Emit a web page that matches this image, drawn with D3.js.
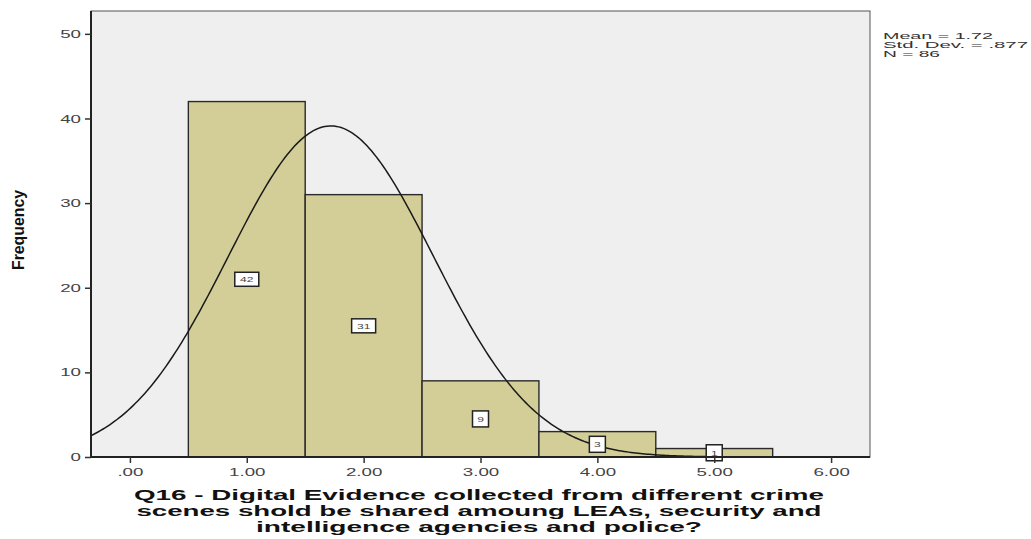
<!DOCTYPE html>
<html>
<head>
<meta charset="utf-8">
<script src="https://cdn.jsdelivr.net/npm/d3@7/dist/d3.min.js"></script>
<style>
  html, body { margin: 0; padding: 0; background: #fff; }
  svg { display: block; }
</style>
</head>
<body>
<svg id="chart" width="1031" height="539"></svg>
<script>
// Histogram data: bin centres and counts
const binCenters = [1, 2, 3, 4, 5];
const binCounts = [42, 31, 9, 3, 1];
const binWidth = 1;

// Summary statistics for the fitted normal curve
const statMean = 1.72;
const statSD = 0.877;
const statN = 86;
const statLines = ["Mean = 1.72", "Std. Dev. = .877", "N = 86"];

// Axis ticks
const xTicks = [0, 1, 2, 3, 4, 5, 6];
const xTickLabels = [".00", "1.00", "2.00", "3.00", "4.00", "5.00", "6.00"];
const yTicks = [0, 10, 20, 30, 40, 50];

const xTitleLines = [
  "Q16 - Digital Evidence collected from different crime",
  "scenes shold be shared amoung LEAs, security and",
  "intelligence agencies and police?"
];

const SANS = "Liberation Sans, Arial, sans-serif";
const svg = d3.select("#chart");
const plot = { left: 91, right: 870, top: 11, bottom: 457 };

const x = d3.scaleLinear().domain([-0.333, 6.333]).range([plot.left, plot.right]);
const y = d3.scaleLinear().domain([0, 52.7]).range([plot.bottom, plot.top]);

// Widen glyphs horizontally (the chart's type is set wide)
function widen(sel, factor) {
  sel.each(function () {
    const w = this.getComputedTextLength();
    d3.select(this).attr("textLength", w * factor).attr("lengthAdjust", "spacingAndGlyphs");
  });
}

// Plot background
svg.append("rect")
  .attr("x", plot.left).attr("y", plot.top)
  .attr("width", plot.right - plot.left).attr("height", plot.bottom - plot.top)
  .attr("fill", "#efefef");

// Bars
svg.append("g").selectAll("rect")
  .data(binCenters)
  .join("rect")
  .attr("x", d => x(d - binWidth / 2))
  .attr("y", (d, i) => y(binCounts[i]))
  .attr("width", d => x(d + binWidth / 2) - x(d - binWidth / 2))
  .attr("height", (d, i) => y(0) - y(binCounts[i]))
  .attr("fill", "#d3ce97")
  .attr("stroke", "#2a2a2a")
  .attr("stroke-width", 1.4);

// Normal curve scaled to counts
const normal = v => statN * binWidth / (statSD * Math.sqrt(2 * Math.PI)) *
  Math.exp(-0.5 * Math.pow((v - statMean) / statSD, 2));
const curvePts = d3.range(-0.333, 6.3331, 0.02).map(v => [v, normal(v)]);
svg.append("path")
  .datum(curvePts)
  .attr("fill", "none")
  .attr("stroke", "#1a1a1a")
  .attr("stroke-width", 1.5)
  .attr("d", d3.line().x(d => x(d[0])).y(d => y(d[1])));

// Value labels at bar mid-height
const lbl = svg.append("g").selectAll("g")
  .data(binCenters)
  .join("g")
  .attr("transform", (d, i) => `translate(${x(d)},${y(binCounts[i] / 2)})`);
lbl.append("rect")
  .attr("x", (d, i) => binCounts[i] >= 10 ? -12 : -8)
  .attr("y", (d, i) => binCounts[i] >= 10 ? -7 : -8)
  .attr("width", (d, i) => binCounts[i] >= 10 ? 24 : 16)
  .attr("height", (d, i) => binCounts[i] >= 10 ? 14 : 16)
  .attr("fill", "#fff")
  .attr("stroke", "#222")
  .attr("stroke-width", 1.5);
lbl.append("text")
  .attr("text-anchor", "middle")
  .attr("dy", "0.35em")
  .attr("font-family", SANS)
  .attr("font-size", 8)
  .attr("fill", "#444")
  .text((d, i) => binCounts[i])
  .call(widen, 1.5);

// Plot frame
svg.append("rect")
  .attr("x", plot.left).attr("y", plot.top)
  .attr("width", plot.right - plot.left).attr("height", plot.bottom - plot.top)
  .attr("fill", "none")
  .attr("stroke", "#555")
  .attr("stroke-width", 1);

// Axes
const yAxis = svg.append("g")
  .attr("transform", `translate(${plot.left},0)`)
  .call(d3.axisLeft(y).tickValues(yTicks).tickSize(6).tickPadding(4));
const xAxis = svg.append("g")
  .attr("transform", `translate(0,${plot.bottom})`)
  .call(d3.axisBottom(x).tickValues(xTicks).tickFormat((d, i) => xTickLabels[i]).tickSize(6).tickPadding(5));
[yAxis, xAxis].forEach(a => {
  a.select(".domain").attr("stroke", "#222").attr("stroke-width", 2);
  a.selectAll(".tick line").attr("stroke", "#333").attr("stroke-width", 1.5);
  a.selectAll(".tick text")
    .attr("font-family", SANS)
    .attr("font-size", 11)
    .attr("fill", "#444")
    .call(widen, 1.7);
});
xAxis.select(".domain").attr("d", `M${plot.left},0H${plot.right}`);
yAxis.select(".domain").attr("d", `M0,${plot.top}V${plot.bottom}`);

// Y axis title
svg.append("text")
  .attr("transform", `translate(24,230) rotate(-90)`)
  .attr("text-anchor", "middle")
  .attr("font-family", "Liberation Sans Narrow, Arial Narrow, sans-serif")
  .attr("font-weight", "bold")
  .attr("font-size", 16)
  .attr("fill", "#111")
  .attr("textLength", 80)
  .attr("lengthAdjust", "spacingAndGlyphs")
  .text("Frequency");

// X axis title, one text per line
const titleWidths = [690, 685, 446];
svg.append("g").selectAll("text")
  .data(xTitleLines)
  .join("text")
  .attr("x", 479)
  .attr("y", (d, i) => 500 + i * 16.2)
  .attr("text-anchor", "middle")
  .attr("font-family", SANS)
  .attr("font-weight", "bold")
  .attr("font-size", 14)
  .attr("fill", "#111")
  .attr("textLength", (d, i) => titleWidths[i])
  .attr("lengthAdjust", "spacingAndGlyphs")
  .text(d => d);

// Statistics text
const statWidths = [110, 145, 57];
svg.append("g").selectAll("text")
  .data(statLines)
  .join("text")
  .attr("x", 883)
  .attr("y", (d, i) => 38.5 + i * 9)
  .attr("font-family", SANS)
  .attr("font-size", 9.5)
  .attr("fill", "#333")
  .attr("textLength", (d, i) => statWidths[i])
  .attr("lengthAdjust", "spacingAndGlyphs")
  .text(d => d);
</script>
</body>
</html>
